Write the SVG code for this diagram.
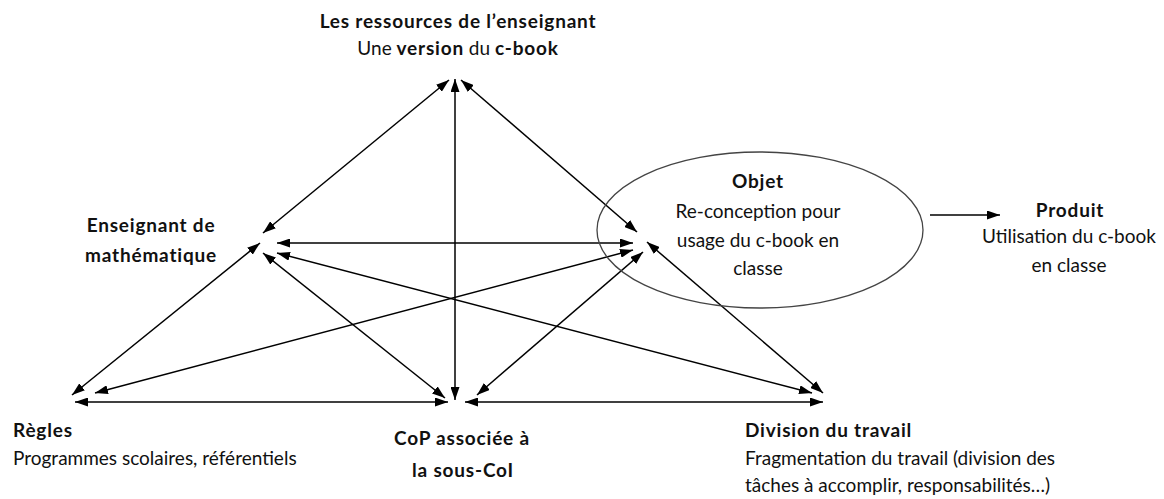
<svg xmlns="http://www.w3.org/2000/svg" width="1164" height="499" viewBox="0 0 1164 499">
  <defs>
    <marker id="ah" viewBox="0 0 13 9" refX="13" refY="4.5" markerWidth="13" markerHeight="9" markerUnits="userSpaceOnUse" orient="auto-start-reverse">
      <path d="M0,0 L13,4.5 L0,9 z" fill="#000"/>
    </marker>
  </defs>
  <style>
    text { font-family: Lato, "Open Sans", "Liberation Sans", sans-serif; font-size: 19px; fill: #111; }
    .b { font-weight: bold; letter-spacing: 0.8px; }
    .c { text-anchor: middle; }
    .con line { stroke: #000; stroke-width: 1.5; marker-start: url(#ah); marker-end: url(#ah); }
    .con line.one { marker-start: none; }
  </style>
  <rect width="1164" height="499" fill="#fff"/>

  <g id="connectors" class="con">
    <line x1="449" y1="80" x2="263" y2="233"/>
    <line x1="455" y1="79" x2="455" y2="400"/>
    <line x1="461" y1="80" x2="637" y2="232"/>
    <line x1="277" y1="243" x2="633" y2="243"/>
    <line x1="277" y1="253" x2="812" y2="393"/>
    <line x1="263" y1="253" x2="445" y2="398"/>
    <line x1="260" y1="243" x2="72" y2="395"/>
    <line x1="95" y1="393" x2="633" y2="250"/>
    <line x1="75" y1="402" x2="448" y2="402"/>
    <line x1="477" y1="395" x2="643" y2="252"/>
    <line x1="465" y1="402" x2="823" y2="402"/>
    <line x1="647" y1="242" x2="823" y2="393"/>
    <line class="one" x1="930" y1="215" x2="1000" y2="215"/>
  </g>

  <g id="ressources">
    <text class="b c" x="458" y="28">Les ressources de l’enseignant</text>
    <text class="c" x="458" y="55">Une <tspan class="b">version</tspan> du <tspan class="b">c-book</tspan></text>
  </g>

  <g id="enseignant">
    <text class="b c" x="151" y="232">Enseignant de</text>
    <text class="b c" x="151" y="262">mathématique</text>
  </g>

  <g id="objet">
    <ellipse cx="760" cy="230" rx="163" ry="78" fill="none" stroke="#444" stroke-width="1.3"/>
    <text class="b c" x="758" y="188">Objet</text>
    <text class="c" x="758" y="218">Re-conception pour</text>
    <text class="c" x="758" y="247">usage du c-book en</text>
    <text class="c" x="758" y="275">classe</text>
  </g>

  <g id="produit">
    <text class="b c" x="1070" y="217">Produit</text>
    <text class="c" x="1069" y="243">Utilisation du c-book</text>
    <text class="c" x="1069" y="272">en classe</text>
  </g>

  <g id="regles">
    <text class="b" x="13" y="437">Règles</text>
    <text x="13" y="465">Programmes scolaires, référentiels</text>
  </g>

  <g id="cop">
    <text class="b c" x="462" y="445">CoP associée à</text>
    <text class="b c" x="463" y="477">la sous-CoI</text>
  </g>

  <g id="division">
    <text class="b" x="745" y="437">Division du travail</text>
    <text x="745" y="465">Fragmentation du travail (division des</text>
    <text x="745" y="492">tâches à accomplir, responsabilités…)</text>
  </g>
</svg>
